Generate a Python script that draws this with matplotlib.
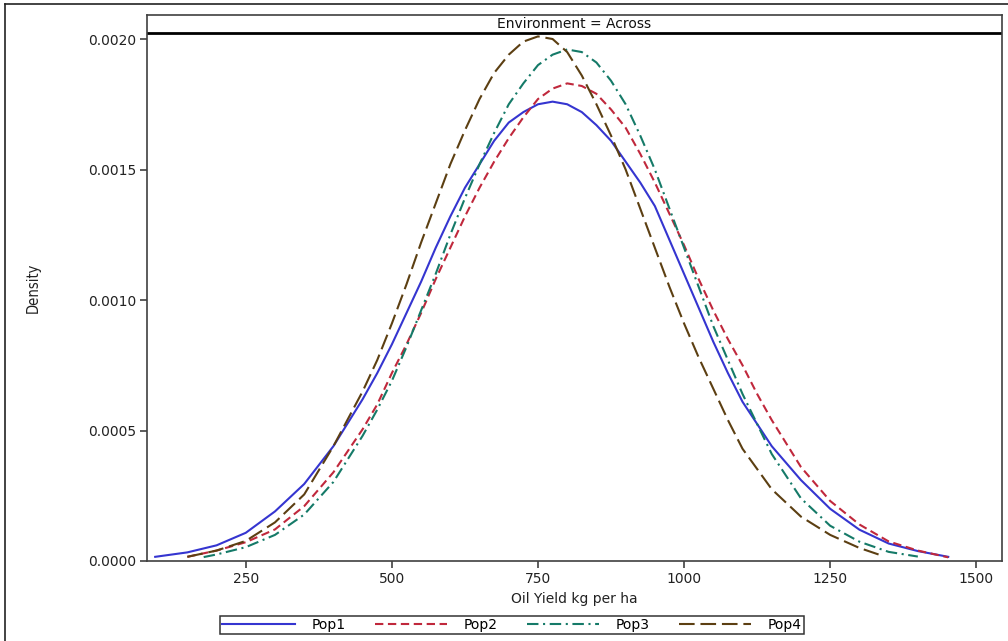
import matplotlib
matplotlib.use('Agg')
import matplotlib.pyplot as plt
from matplotlib.lines import Line2D

# density curves (oil yield, kg per ha)
pop1_x = [95, 150, 200, 250, 300, 350, 400, 450, 475, 500, 525, 550, 575, 600, 625, 650, 675,
          700, 725, 750, 775, 800, 825, 850, 875, 900, 925, 950, 975, 1000, 1025, 1050, 1075,
          1100, 1150, 1200, 1250, 1300, 1350, 1400, 1452]
pop1_y = [0.000016, 0.000033, 0.00006, 0.000108, 0.00019, 0.000295, 0.00044, 0.00062, 0.00072,
          0.00083, 0.00095, 0.00107, 0.0012, 0.00132, 0.00143, 0.00152, 0.00161, 0.00168,
          0.00172, 0.00175, 0.00176, 0.00175, 0.00172, 0.00167, 0.00161, 0.00153, 0.00145,
          0.00136, 0.00123, 0.0011, 0.00097, 0.00084, 0.00072, 0.00061, 0.00044, 0.00031,
          0.0002, 0.00012, 0.000067, 0.000038, 0.000016]

pop2_x = [150, 200, 250, 300, 350, 400, 450, 475, 500, 525, 550, 575, 600, 625, 650, 675,
          700, 725, 750, 775, 800, 825, 850, 875, 900, 925, 950, 975, 1000, 1025, 1050, 1075,
          1100, 1125, 1150, 1200, 1250, 1300, 1350, 1400, 1452]
pop2_y = [0.000016, 0.00004, 0.000072, 0.000121, 0.00021, 0.00034, 0.000505, 0.0006, 0.00072,
          0.00083, 0.00095, 0.00108, 0.0012, 0.00132, 0.00143, 0.00153, 0.00162, 0.0017,
          0.00177, 0.00181, 0.00183, 0.00182, 0.00179, 0.00173, 0.00166, 0.00156, 0.00145,
          0.00133, 0.00121, 0.00108, 0.00096, 0.00085, 0.00075, 0.00064, 0.00054, 0.00036,
          0.00023, 0.00014, 0.000075, 0.00004, 0.000014]

pop3_x = [178, 200, 250, 300, 350, 400, 450, 475, 500, 525, 550, 575, 600, 625, 650, 675,
          700, 725, 750, 775, 800, 825, 850, 875, 900, 925, 950, 975, 1000, 1025, 1050, 1075,
          1100, 1150, 1200, 1250, 1300, 1350, 1400]
pop3_y = [0.000015, 0.000025, 0.000053, 0.0001, 0.000178, 0.000303, 0.00048, 0.00058, 0.00069,
          0.00082, 0.00096, 0.0011, 0.00125, 0.00139, 0.00152, 0.00164, 0.00175, 0.00183,
          0.0019, 0.00194, 0.00196, 0.00195, 0.00191, 0.00184, 0.00175, 0.00163, 0.0015,
          0.00135, 0.0012, 0.00105, 0.0009, 0.00077, 0.00064, 0.00041, 0.00024, 0.000135,
          0.000074, 0.000035, 0.000017]

pop4_x = [150, 200, 250, 300, 350, 400, 450, 475, 500, 525, 550, 575, 600, 625, 650, 675,
          700, 725, 750, 775, 800, 825, 850, 875, 900, 925, 950, 975, 1000, 1025, 1050, 1075,
          1100, 1150, 1200, 1250, 1300, 1342]
pop4_y = [0.000016, 0.00004, 0.000077, 0.000148, 0.000255, 0.00044, 0.00065, 0.00077, 0.00091,
          0.00106, 0.00122, 0.00137, 0.00152, 0.00165, 0.00177, 0.00187, 0.00194, 0.00199,
          0.00201, 0.002, 0.00195, 0.00186, 0.00175, 0.00163, 0.0015, 0.00135, 0.0012,
          0.00105, 0.00091, 0.00078, 0.00066, 0.00054, 0.00043, 0.000275, 0.00017, 0.0001,
          0.00005, 0.000018]

labels = ['Pop1', 'Pop2', 'Pop3', 'Pop4']
colors = ['#3535d0', '#c0283c', '#157a68', '#5c3f12']
styles = ['-', (0, (4, 2.2)), (0, (5.5, 2.2, 1, 2.2)), (0, (7.5, 2.8))]

x_ticks = [250, 500, 750, 1000, 1250, 1500]
y_ticks = [0.0, 0.0005, 0.0010, 0.0015, 0.0020]

plt.rcParams['font.family'] = ['DejaVu Sans']

fig = plt.figure(figsize=(10.08, 6.41), dpi=100)
ax = fig.add_axes([147 / 1008, 80 / 641, 855 / 1008, 546 / 641])

series = [(pop1_x, pop1_y), (pop2_x, pop2_y), (pop3_x, pop3_y), (pop4_x, pop4_y)]
for (xs, ys), lab, c, ls in zip(series, labels, colors, styles):
    ax.plot(xs, ys, color=c, linestyle=ls, lw=1.5, label=lab)

ax.set_xlim(81, 1544)
ax.set_ylim(0, 0.002092)
ax.set_xticks(x_ticks)
ax.set_yticks(y_ticks)
ax.set_yticklabels(['%.4f' % v for v in y_ticks])
ax.tick_params(direction='out', length=5, width=1.1, color='#303030',
               labelsize=10, labelcolor='#222222', pad=3)
for s in ax.spines.values():
    s.set_color('#404040')
    s.set_linewidth(1.2)

# panel header strip
ax.axhline(0.002023, color='black', lw=2)
ax.text(0.5, 0.9835, 'Environment = Across', transform=ax.transAxes,
        ha='center', va='center', fontsize=10, color='#111111')

ax.set_xlabel('Oil Yield kg per ha', fontsize=10, color='#222222', labelpad=4)
ax.set_ylabel('Density', fontsize=10.5, color='#222222', labelpad=34,
              fontstretch='condensed')

leg = fig.legend(loc='center', bbox_to_anchor=(512 / 1008, 1 - 625 / 641), ncol=4,
                 fontsize=10, handlelength=5.2, handletextpad=1.2, columnspacing=2.1,
                 borderpad=0.15, fancybox=False, frameon=True)
leg.get_frame().set_edgecolor('black')
leg.get_frame().set_linewidth(1.1)

# outer frame, partly cut off at the right and bottom edge
fig.add_artist(Line2D([5 / 1008, 5 / 1008], [0, 1 - 4 / 641], color='#222222', lw=1.2))
fig.add_artist(Line2D([5 / 1008, 1], [1 - 4 / 641, 1 - 4 / 641], color='#222222', lw=1.2))

fig.savefig('out.png', dpi=100)
